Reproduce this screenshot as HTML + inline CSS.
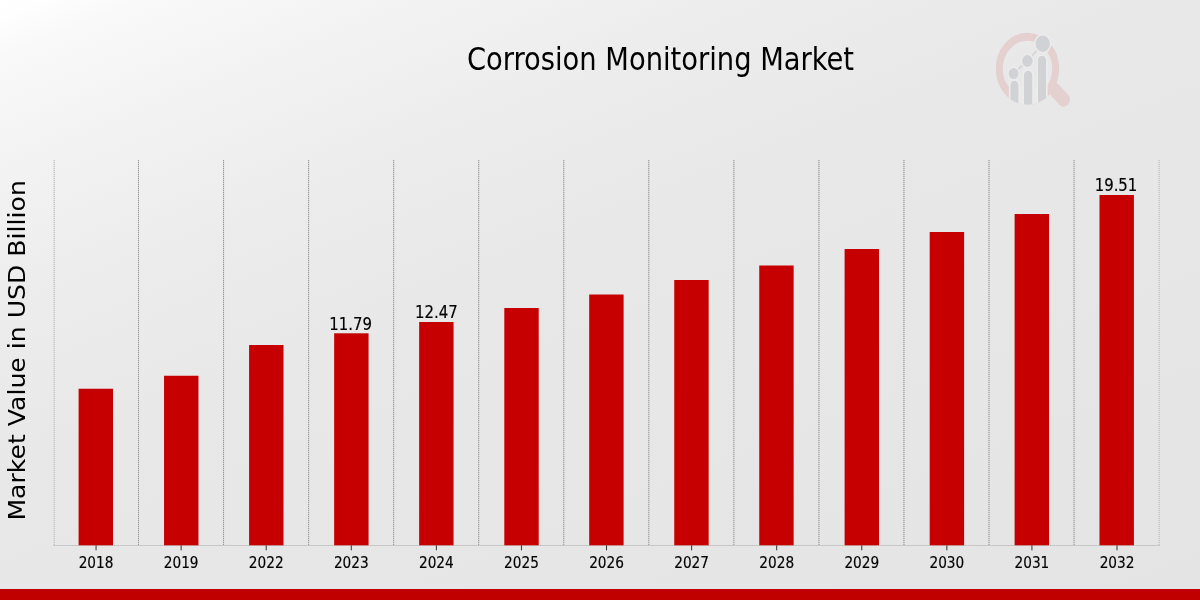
<!DOCTYPE html>
<html lang="en"><head><meta charset="utf-8"><title>Corrosion Monitoring Market</title>
<style>
html,body{margin:0;padding:0;background:#e8e8e8;}
body{width:1200px;height:600px;overflow:hidden;position:relative;font-family:"DejaVu Sans Condensed","DejaVu Sans","Liberation Sans",sans-serif;}
svg{position:absolute;left:0;top:0;display:block}
.t{font-family:"DejaVu Sans Condensed","DejaVu Sans","Liberation Sans",sans-serif;fill:#000}
.s{stroke:#000;stroke-width:0.15px}
.y{font-family:"DejaVu Sans","Liberation Sans",sans-serif;fill:#000}
</style></head><body>
<svg width="1200" height="600" viewBox="0 0 1200 600">
<defs>
<linearGradient id="bg" gradientUnits="userSpaceOnUse" x1="0" y1="0" x2="372.4" y2="931">
<stop offset="0" stop-color="#ffffff"/><stop offset="0.015" stop-color="#fefefe"/><stop offset="0.055" stop-color="#f9f9f9"/><stop offset="0.148" stop-color="#f3f3f3"/><stop offset="0.296" stop-color="#ececec"/><stop offset="0.444" stop-color="#e8e8e8"/><stop offset="1" stop-color="#e4e4e4"/>
</linearGradient>
</defs>
<rect x="0" y="0" width="1200" height="600" fill="url(#bg)"/>

<line x1="54.20" y1="160" x2="54.20" y2="545.3" stroke="#dcdcdc" stroke-width="1"/>
<line x1="54.20" y1="160" x2="54.20" y2="545.3" stroke="#bcbcbc" stroke-width="1" stroke-dasharray="1 1"/>
<line x1="138.50" y1="160" x2="138.50" y2="545.3" stroke="#cecece" stroke-width="1"/>
<line x1="138.50" y1="160" x2="138.50" y2="545.3" stroke="#979797" stroke-width="1" stroke-dasharray="1 1"/>
<line x1="223.55" y1="160" x2="223.55" y2="545.3" stroke="#cecece" stroke-width="1"/>
<line x1="223.55" y1="160" x2="223.55" y2="545.3" stroke="#979797" stroke-width="1" stroke-dasharray="1 1"/>
<line x1="308.60" y1="160" x2="308.60" y2="545.3" stroke="#cecece" stroke-width="1"/>
<line x1="308.60" y1="160" x2="308.60" y2="545.3" stroke="#979797" stroke-width="1" stroke-dasharray="1 1"/>
<line x1="393.65" y1="160" x2="393.65" y2="545.3" stroke="#cecece" stroke-width="1"/>
<line x1="393.65" y1="160" x2="393.65" y2="545.3" stroke="#979797" stroke-width="1" stroke-dasharray="1 1"/>
<line x1="478.70" y1="160" x2="478.70" y2="545.3" stroke="#cecece" stroke-width="1"/>
<line x1="478.70" y1="160" x2="478.70" y2="545.3" stroke="#979797" stroke-width="1" stroke-dasharray="1 1"/>
<line x1="563.75" y1="160" x2="563.75" y2="545.3" stroke="#cecece" stroke-width="1"/>
<line x1="563.75" y1="160" x2="563.75" y2="545.3" stroke="#979797" stroke-width="1" stroke-dasharray="1 1"/>
<line x1="648.80" y1="160" x2="648.80" y2="545.3" stroke="#cecece" stroke-width="1"/>
<line x1="648.80" y1="160" x2="648.80" y2="545.3" stroke="#979797" stroke-width="1" stroke-dasharray="1 1"/>
<line x1="733.85" y1="160" x2="733.85" y2="545.3" stroke="#cecece" stroke-width="1"/>
<line x1="733.85" y1="160" x2="733.85" y2="545.3" stroke="#979797" stroke-width="1" stroke-dasharray="1 1"/>
<line x1="818.90" y1="160" x2="818.90" y2="545.3" stroke="#cecece" stroke-width="1"/>
<line x1="818.90" y1="160" x2="818.90" y2="545.3" stroke="#979797" stroke-width="1" stroke-dasharray="1 1"/>
<line x1="903.95" y1="160" x2="903.95" y2="545.3" stroke="#cecece" stroke-width="1"/>
<line x1="903.95" y1="160" x2="903.95" y2="545.3" stroke="#979797" stroke-width="1" stroke-dasharray="1 1"/>
<line x1="989.00" y1="160" x2="989.00" y2="545.3" stroke="#cecece" stroke-width="1"/>
<line x1="989.00" y1="160" x2="989.00" y2="545.3" stroke="#979797" stroke-width="1" stroke-dasharray="1 1"/>
<line x1="1074.05" y1="160" x2="1074.05" y2="545.3" stroke="#cecece" stroke-width="1"/>
<line x1="1074.05" y1="160" x2="1074.05" y2="545.3" stroke="#979797" stroke-width="1" stroke-dasharray="1 1"/>
<line x1="1159.10" y1="160" x2="1159.10" y2="545.3" stroke="#dcdcdc" stroke-width="1"/>
<line x1="1159.10" y1="160" x2="1159.10" y2="545.3" stroke="#bcbcbc" stroke-width="1" stroke-dasharray="1 1"/>
<line x1="53.7" y1="545.5" x2="1160.11" y2="545.5" stroke="#d2d2d2" stroke-width="1"/>
<line x1="53.7" y1="545.5" x2="1160.11" y2="545.5" stroke="#bcbcbc" stroke-width="1" stroke-dasharray="1 1"/>
<rect x="78.60" y="388.75" width="34.4" height="156.55" fill="#c60000"/>
<line x1="96.05" y1="545.3" x2="96.05" y2="550.3" stroke="#333" stroke-width="1"/>
<text class="t s" transform="translate(96.05,567.6) scale(1,1.025)" font-size="15.2" text-anchor="middle">2018</text>
<rect x="164.05" y="375.75" width="34.4" height="169.55" fill="#c60000"/>
<line x1="181.13" y1="545.3" x2="181.13" y2="550.3" stroke="#333" stroke-width="1"/>
<text class="t s" transform="translate(181.13,567.6) scale(1,1.025)" font-size="15.2" text-anchor="middle">2019</text>
<rect x="249.10" y="345" width="34.4" height="200.30" fill="#c60000"/>
<line x1="266.21" y1="545.3" x2="266.21" y2="550.3" stroke="#333" stroke-width="1"/>
<text class="t s" transform="translate(266.21,567.6) scale(1,1.025)" font-size="15.2" text-anchor="middle">2022</text>
<rect x="334.15" y="333.3" width="34.4" height="212.00" fill="#c60000"/>
<line x1="351.29" y1="545.3" x2="351.29" y2="550.3" stroke="#333" stroke-width="1"/>
<text class="t s" transform="translate(351.29,567.6) scale(1,1.025)" font-size="15.2" text-anchor="middle">2023</text>
<text class="t s" transform="translate(350.64,329.95) scale(1,1.07)" font-size="16.6" text-anchor="middle">11.79</text>
<rect x="419.15" y="322" width="34.4" height="223.30" fill="#c60000"/>
<line x1="436.37" y1="545.3" x2="436.37" y2="550.3" stroke="#333" stroke-width="1"/>
<text class="t s" transform="translate(436.37,567.6) scale(1,1.025)" font-size="15.2" text-anchor="middle">2024</text>
<text class="t s" transform="translate(436.28,318.45) scale(1,1.07)" font-size="16.6" text-anchor="middle">12.47</text>
<rect x="504.30" y="308" width="34.4" height="237.30" fill="#c60000"/>
<line x1="521.45" y1="545.3" x2="521.45" y2="550.3" stroke="#333" stroke-width="1"/>
<text class="t s" transform="translate(521.45,567.6) scale(1,1.025)" font-size="15.2" text-anchor="middle">2025</text>
<rect x="589.20" y="294.5" width="34.4" height="250.80" fill="#c60000"/>
<line x1="606.53" y1="545.3" x2="606.53" y2="550.3" stroke="#333" stroke-width="1"/>
<text class="t s" transform="translate(606.53,567.6) scale(1,1.025)" font-size="15.2" text-anchor="middle">2026</text>
<rect x="674.25" y="280" width="34.4" height="265.30" fill="#c60000"/>
<line x1="691.61" y1="545.3" x2="691.61" y2="550.3" stroke="#333" stroke-width="1"/>
<text class="t s" transform="translate(691.61,567.6) scale(1,1.025)" font-size="15.2" text-anchor="middle">2027</text>
<rect x="759.25" y="265.5" width="34.4" height="279.80" fill="#c60000"/>
<line x1="776.69" y1="545.3" x2="776.69" y2="550.3" stroke="#333" stroke-width="1"/>
<text class="t s" transform="translate(776.69,567.6) scale(1,1.025)" font-size="15.2" text-anchor="middle">2028</text>
<rect x="844.60" y="249" width="34.4" height="296.30" fill="#c60000"/>
<line x1="861.77" y1="545.3" x2="861.77" y2="550.3" stroke="#333" stroke-width="1"/>
<text class="t s" transform="translate(861.77,567.6) scale(1,1.025)" font-size="15.2" text-anchor="middle">2029</text>
<rect x="929.70" y="232" width="34.4" height="313.30" fill="#c60000"/>
<line x1="946.85" y1="545.3" x2="946.85" y2="550.3" stroke="#333" stroke-width="1"/>
<text class="t s" transform="translate(946.85,567.6) scale(1,1.025)" font-size="15.2" text-anchor="middle">2030</text>
<rect x="1014.60" y="214" width="34.4" height="331.30" fill="#c60000"/>
<line x1="1031.93" y1="545.3" x2="1031.93" y2="550.3" stroke="#333" stroke-width="1"/>
<text class="t s" transform="translate(1031.93,567.6) scale(1,1.025)" font-size="15.2" text-anchor="middle">2031</text>
<rect x="1099.50" y="195" width="34.4" height="350.30" fill="#c60000"/>
<line x1="1117.01" y1="545.3" x2="1117.01" y2="550.3" stroke="#333" stroke-width="1"/>
<text class="t s" transform="translate(1117.01,567.6) scale(1,1.025)" font-size="15.2" text-anchor="middle">2032</text>
<text class="t s" transform="translate(1116.00,191.10) scale(1,1.07)" font-size="16.6" text-anchor="middle">19.51</text>
<text class="t" transform="translate(660.5,70.3) scale(1,1.07)" font-size="30.4" text-anchor="middle">Corrosion Monitoring Market</text>
<text class="y" transform="translate(25,350.4) rotate(-90)" font-size="23.5" text-anchor="middle" textLength="340.4" lengthAdjust="spacingAndGlyphs">Market Value in USD Billion</text>
<g transform="translate(1027.5,68.7) scale(1,1.135)">
<clipPath id="lc"><circle cx="0" cy="0" r="31.7"/></clipPath>
<circle cx="0" cy="0" r="28.2" fill="none" stroke="#e5d0d0" stroke-width="7"/>
<line x1="27" y1="18.5" x2="36.2" y2="27.2" stroke="#e5d0d0" stroke-width="12.5" stroke-linecap="round"/>
<g clip-path="url(#lc)">
<rect x="-17.8" y="16" width="37.1" height="30" fill="#ebebeb"/>
<g fill="#d1d2d6" stroke="#ececec" stroke-width="1.6">
<path d="M-17.8 40 V14.6 a4.75 4.75 0 0 1 9.5 0 V40 Z"/>
<path d="M-4.3 40 V5.9 a4.9 4.9 0 0 1 9.8 0 V40 Z"/>
<path d="M9.7 40 V-7.4 a4.8 4.8 0 0 1 9.6 0 V40 Z"/>
</g></g>
<polyline points="-14,4.2 -0.1,-6.8 15.2,-22" fill="none" stroke="#d1d2d6" stroke-width="1.5"/>
<g fill="#d1d2d6" stroke="#ececec" stroke-width="1.4">
<circle cx="-14" cy="4.2" r="5.6"/>
<circle cx="-0.1" cy="-6.8" r="6"/>
<circle cx="15.2" cy="-22" r="7.9"/>
</g>
</g>
<rect x="0" y="589" width="1200" height="11" fill="#c00000"/>
</svg></body></html>
